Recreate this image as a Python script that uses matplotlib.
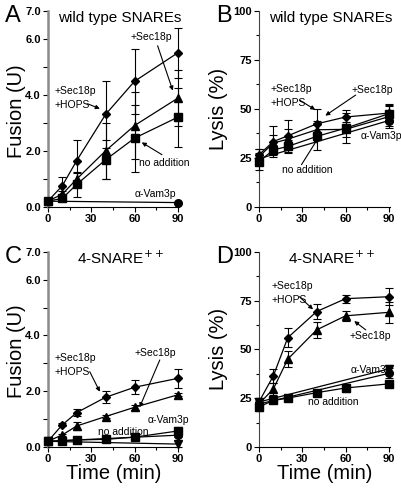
import numpy as np
import matplotlib.pyplot as plt

plt.rcParams['font.family'] = ['Liberation Sans', 'DejaVu Sans']

# time points (min)
t = [0, 10, 20, 40, 60, 90]
t_ab = [0, 90]

# A - fusion, wild type SNAREs
a_hops = [0.2, 0.75, 1.65, 3.3, 4.48, 5.5]
a_hops_e = [0.05, 0.3, 0.75, 1.2, 1.15, 0.9]
a_sec = [0.2, 0.45, 0.99, 2.0, 2.9, 3.88]
a_sec_e = [0.05, 0.12, 0.2, 1.0, 1.2, 1.0]
a_none = [0.2, 0.3, 0.8, 1.68, 2.45, 3.2]
a_none_e = [0.05, 0.1, 0.45, 0.7, 1.2, 1.05]
a_vam = [0.2, 0.15]

# B - lysis, wild type SNAREs
b_hops = [26.5, 33.3, 36.2, 42.3, 45.8, 47.8]
b_hops_e = [3, 8, 8, 7.5, 3.5, 4.5]
b_sec = [25.5, 32.5, 34.5, 39.3, 39.5, 46]
b_sec_e = [4, 4, 5, 4.5, 4, 6]
b_none = [23, 29, 30.8, 35.9, 40.1, 47.5]
b_none_e = [4, 2.5, 3.5, 7, 7.5, 4]
b_vam = [24.5, 44]

# C - fusion, 4-SNARE++
c_hops = [0.2, 0.79, 1.23, 1.78, 2.14, 2.46]
c_hops_e = [0.03, 0.05, 0.12, 0.22, 0.25, 0.33]
c_sec = [0.2, 0.43, 0.75, 1.09, 1.42, 1.87]
c_sec_e = [0.02, 0.04, 0.15, 0.05, 0.1, 0.05]
c_none = [0.2, 0.22, 0.25, 0.27, 0.35, 0.57]
c_none_e = [0.02, 0.02, 0.02, 0.03, 0.05, 0.15]
c_vam = [0.2, 0.42]
c_ctl = [0.2, 0.1]

# D - lysis, 4-SNARE++
d_hops = [23, 36.4, 56, 69.4, 76, 77]
d_hops_e = [2, 3.5, 5, 4, 2, 4.5]
d_sec = [22, 29.7, 45, 60, 67.2, 69]
d_sec_e = [2, 3, 4, 4, 2.5, 5.5]
d_none = [20.5, 23.8, 25, 27.8, 30.2, 32.3]
d_none_e = [2, 1, 1, 1.5, 2, 1.5]
d_vam = [22, 37.7]
d_ctl = [23, 40]


def series(ax, x, y, e, mk, ms):
    ax.errorbar(x, y, yerr=e, fmt='-', marker=mk, ms=ms, color='k', lw=0.9,
                elinewidth=0.8, capsize=3, capthick=0.8, clip_on=False, zorder=3)


def setup(ax, fusion, letter, title, xlab):
    for s in ['top', 'right']:
        ax.spines[s].set_visible(False)
    ax.set_xlim(0, 91)
    ax.set_xticks([0, 30, 60, 90])
    ax.set_xticks([15, 45, 75], minor=True)
    if fusion:
        ax.set_ylim(0, 7)
        ax.set_yticks(range(8))
        ax.set_yticklabels(['0.0', '', '2.0', '', '4.0', '', '6.0', '7.0'])
        ax.set_ylabel('Fusion (U)', fontsize=14.5)
        ax.yaxis.set_label_coords(-0.165, 0.49)
        ax.spines['left'].set_color('#8a8a8a')
        ax.spines['left'].set_linewidth(1.8)
        ty = 6.75
    else:
        ax.set_ylim(0, 100)
        ax.set_yticks([0, 25, 50, 75, 100])
        ax.set_yticks([12.5, 37.5, 62.5, 87.5], minor=True)
        ax.set_ylabel('Lysis (%)', fontsize=14.5)
        ax.yaxis.set_label_coords(-0.235, 0.5)
        ax.spines['left'].set_color('#444444')
        ty = 96.5
    ax.tick_params(which='both', direction='out', width=0.8, labelsize=8, pad=1.5)
    ax.tick_params(which='major', length=3.5)
    ax.tick_params(which='minor', length=2.5)
    for lb in ax.get_xticklabels() + ax.get_yticklabels():
        lb.set_fontweight('bold')
    ax.text(50, ty, title, ha='center', va='center', fontsize=11)
    if xlab:
        ax.set_xlabel('Time (min)', fontsize=14.5, labelpad=0)
    pos = ax.get_position()
    ax.figure.text(pos.x0 - 0.107, pos.y1 - 0.01, letter, fontsize=17, ha='left', va='center')


def note(ax, txt, xy, xytext, **kw):
    if xytext is None:
        ax.text(xy[0], xy[1], txt, fontsize=7.5, **kw)
    else:
        arr = dict(arrowstyle='-|>', lw=0.8, color='k', mutation_scale=6, shrinkA=0, shrinkB=0)
        ax.annotate('', xy=xy, xytext=xytext, arrowprops=arr)
        ax.text(txt[1][0], txt[1][1], txt[0], fontsize=7.5, **kw)


fig = plt.figure(figsize=(4.02, 4.9), dpi=100)
axA = fig.add_axes([0.119, 0.578, 0.327, 0.4])
axB = fig.add_axes([0.644, 0.578, 0.327, 0.4])
axC = fig.add_axes([0.119, 0.088, 0.327, 0.398])
axD = fig.add_axes([0.644, 0.088, 0.327, 0.398])

# A
series(axA, t, a_hops, a_hops_e, 'D', 4.2)
series(axA, t, a_sec, a_sec_e, '^', 5.5)
series(axA, t, a_none, a_none_e, 's', 5.5)
series(axA, t_ab, a_vam, None, 'o', 5.5)
setup(axA, True, 'A', 'wild type SNAREs', False)
note(axA, ('+Sec18p', (57, 6.05)), (86.5, 4.15), (76, 5.75), va='center')
note(axA, ('+Sec18p\n+HOPS', (4.5, 3.9)), (36, 3.5), (27.5, 3.68), va='center', linespacing=1.5)
note(axA, ('no addition', (63, 1.55)), (65, 2.3), (79, 1.86), va='center')
note(axA, 'α-Vam3p', (89, 0.47), None, ha='right', va='center')

# B
series(axB, t, b_hops, b_hops_e, 'D', 4.2)
series(axB, t, b_sec, b_sec_e, '^', 5.5)
series(axB, t, b_none, b_none_e, 's', 5.5)
series(axB, t_ab, b_vam, [3, 3], 'o', 5.5)
setup(axB, False, 'B', 'wild type SNAREs', False)
note(axB, ('+Sec18p\n+HOPS', (8, 56.7)), (39, 49.5), (28, 54.5), va='center', linespacing=1.5)
note(axB, ('+Sec18p', (64, 59.7)), (46, 46.5), (67, 57), va='center')
note(axB, ('no addition', (16, 19)), (41, 35), (29.5, 21.5), va='center')
note(axB, 'α-Vam3p', (99, 36), None, ha='right', va='center')

# C
series(axC, t, c_hops, c_hops_e, 'D', 4.2)
series(axC, t, c_sec, c_sec_e, '^', 5.5)
series(axC, t, c_none, c_none_e, 's', 5.5)
series(axC, t_ab, c_vam, [0.05, 0.05], 'o', 5.5)
series(axC, t_ab, c_ctl, [0.05, 0.1], 'v', 5.5)
setup(axC, True, 'C', '4-SNARE$^{++}$', True)
note(axC, ('+Sec18p\n+HOPS', (4.5, 2.95)), (36, 1.98), (29, 2.7), va='center', linespacing=1.5)
note(axC, ('+Sec18p', (60, 3.37)), (63.5, 1.42), (77.5, 3.12), va='center')
note(axC, 'no addition', (34.5, 0.55), None, ha='left', va='center')
note(axC, 'α-Vam3p', (69, 0.97), None, ha='left', va='center')

# D
series(axD, t, d_hops, d_hops_e, 'D', 4.2)
series(axD, t, d_sec, d_sec_e, '^', 5.5)
series(axD, t, d_none, d_none_e, 's', 5.5)
series(axD, t_ab, d_vam, [2.5, 2.5], 'o', 5.5)
series(axD, t_ab, d_ctl, [2, 2], 'v', 5.5)
setup(axD, False, 'D', '4-SNARE$^{++}$', True)
note(axD, ('+Sec18p\n+HOPS', (9, 79)), (37.5, 70.5), (28, 77), va='center', linespacing=1.5)
note(axD, ('+Sec18p', (62.5, 57)), (66, 64.5), (74, 60), va='center')
note(axD, 'no addition', (34, 23), None, ha='left', va='center')
note(axD, 'α-Vam3p', (63.5, 39.5), None, ha='left', va='center')

fig.savefig('out.png', dpi=100)
